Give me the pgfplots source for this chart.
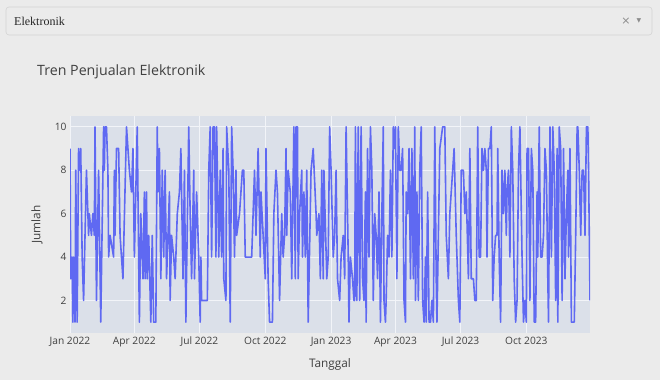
\documentclass[border=0pt]{standalone}
\usepackage{pgfplots}
\pgfplotsset{compat=1.18}
\usepackage{pgfplotstable}
\usepackage{fontspec}
\setmainfont{Open Sans}
\newfontfamily\serifdd{Liberation Serif}
\newfontfamily\dejavu{DejaVu Sans}
\definecolor{pagebg}{HTML}{EBEBEB}
\definecolor{plotbg}{HTML}{DBE0E9}
\definecolor{linec}{HTML}{5F69F2}
\definecolor{gridc}{HTML}{F2F4F8}
\definecolor{txt}{HTML}{404040}
\pgfplotstableread{
day val
0 9
1 3
3 4
4 1
5 4
6 3
7 1
8 8
10 1
12 9
13 8
15 9
17 4
19 2
23 8
26 5
27 6
30 5
32 6
34 5
35 10
37 2
40 8
43 1
47 10
48 8
49 10
51 10
53 8
54 4
56 5
61 4
62 8
63 5
65 9
68 9
70 5
74 3
79 10
83 8
86 7
88 9
90 4
94 10
97 1
99 6
102 3
104 7
105 3
107 7
108 3
110 5
113 1
115 5
117 1
120 1
122 10
123 7
125 9
127 3
129 8
131 4
133 8
135 3
137 5
139 7
140 2
142 5
145 4
147 3
150 6
153 7
155 9
158 3
160 8
162 1
166 10
168 6
170 3
173 8
174 3
177 7
180 4
182 1
183 4
184 2
187 2
192 2
194 8
196 10
198 4
200 10
202 10
204 4
205 10
208 4
210 8
212 4
214 9
215 3
218 2
219 10
222 8
224 1
226 10
228 8
230 4
232 8
233 5
237 6
241 8
243 8
245 4
246 4
251 4
254 4
255 5
258 8
260 5
263 9
266 4
267 7
270 5
273 3
274 9
277 3
279 1
283 1
285 6
288 8
290 7
293 2
296 6
298 4
300 5
302 9
303 5
305 8
308 7
310 3
313 10
315 3
316 10
318 10
319 3
321 6
324 8
325 4
327 7
329 4
331 8
333 1
337 8
340 9
344 6
345 5
348 6
350 3
352 8
354 3
355 8
359 3
361 4
363 10
365 8
368 4
370 5
372 8
374 3
377 2
379 4
382 5
384 3
386 10
389 4
390 1
392 4
395 3
397 2
398 2
399 10
401 2
403 10
405 2
407 10
409 3
411 2
413 7
414 1
416 9
418 4
420 10
422 8
424 2
426 6
428 5
430 3
432 7
434 1
436 6
438 10
439 2
441 1
442 2
444 5
446 4
448 8
450 4
452 10
454 9
455 10
457 3
459 10
461 8
463 8
465 9
467 2
469 1
470 7
472 6
474 9
476 3
478 9
480 3
482 10
483 2
485 7
487 2
489 8
491 10
493 2
495 1
497 4
498 1
500 7
502 1
504 1
506 2
508 1
510 10
512 3
513 1
517 9
521 10
524 10
526 5
529 3
531 6
535 8
537 9
540 5
541 4
543 2
545 1
547 8
550 8
552 6
554 7
557 3
559 9
561 3
564 3
566 2
568 2
570 10
572 4
574 4
576 9
578 8
580 9
582 8
583 4
585 9
587 9
589 10
591 2
593 4
595 5
597 5
598 9
600 4
602 1
604 8
606 6
608 8
610 5
611 7
613 8
615 4
617 10
619 8
621 3
623 1
625 2
627 8
629 10
632 4
634 1
636 2
638 1
639 9
641 9
643 2
645 9
647 8
649 1
651 1
653 7
654 4
656 10
658 4
660 4
662 5
664 9
666 8
668 3
669 1
671 10
673 4
675 10
677 8
679 2
681 9
682 1
684 10
686 9
688 2
690 9
692 3
694 6
696 8
697 4
699 9
701 1
703 1
705 1
707 5
709 10
710 10
712 8
714 5
716 8
718 8
720 5
722 10
724 10
725 8
727 2
}\sales
\begin{document}
\begin{tikzpicture}[x=1pt,y=1pt]
\fill[pagebg] (0,0) rectangle (660,380);
\useasboundingbox (0,0) rectangle (660,380);
\draw[rounded corners=3pt, draw=black!17, fill=white!92!black, line width=0.6pt] (6,345) rectangle (652,373);
\node[anchor=west, font=\serifdd\fontsize{12}{14}\selectfont, text=black!85, inner sep=0pt] at (14,359) {Elektronik};
\node[font=\dejavu\fontsize{11}{12}\selectfont, text=black!45] at (626,359) {×};
\node[font=\dejavu\fontsize{6}{7}\selectfont, text=black!45] at (639,359.5) {▼};
\node[anchor=west, font=\fontsize{14.2}{16}\selectfont, text=txt, inner sep=0pt] at (37,308) {Tren Penjualan Elektronik};
\begin{axis}[
  at={(70pt,47pt)}, anchor=south west,
  scale only axis, width=520pt, height=217pt,
  xmin=0, xmax=727, ymin=0.5, ymax=10.5,
  axis background/.style={fill=plotbg},
  axis line style={draw=none},
  grid=major,
  major grid style={gridc, line width=0.8pt},
  xtick={0,90,181,273,365,455,546,638},
  xticklabels={Jan 2022,Apr 2022,Jul 2022,Oct 2022,Jan 2023,Apr 2023,Jul 2023,Oct 2023},
  ytick={2,4,6,8,10},
  yticklabels={2,4,6,8,10},
  major tick length=0pt,
  tick style={draw=none},
  ticklabel style={font=\fontsize{10.2}{12}\selectfont, text=txt},
  xticklabel style={yshift=-0.5pt},
  yticklabel style={xshift=0pt},
  xlabel={Tanggal}, ylabel={Jumlah},
  label style={font=\fontsize{11.8}{13}\selectfont, text=txt},
  xlabel style={at={(axis description cs:0.5,-0.143)}, anchor=center},
  ylabel style={at={(axis description cs:-0.0635,0.5)}, anchor=center},
]
\addplot[linec, line width=1.6pt, line join=round, mark=none] table[x=day, y=val] {\sales};
\end{axis}
\end{tikzpicture}
\end{document}
